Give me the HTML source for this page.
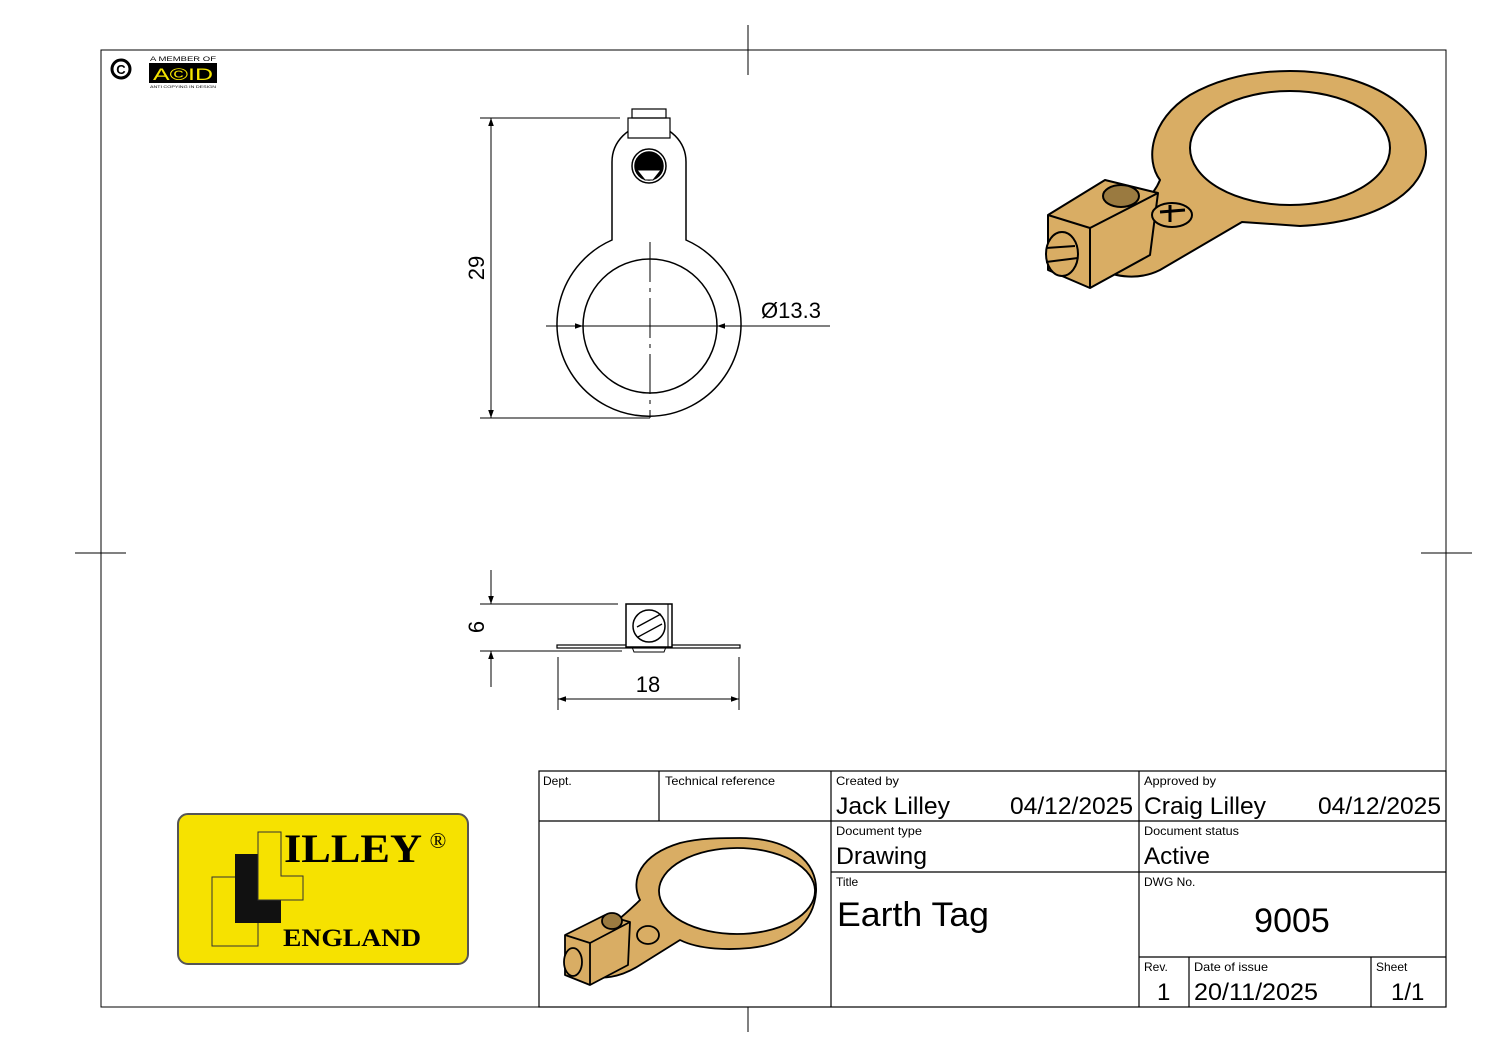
<!DOCTYPE html>
<html><head><meta charset="utf-8"><style>
html,body{margin:0;padding:0;background:#fff;}
svg{display:block;}
text{font-family:"Liberation Sans",sans-serif;fill:#000;}
</style></head><body>
<svg width="1497" height="1058" viewBox="0 0 1497 1058" xmlns="http://www.w3.org/2000/svg">
<defs>
<marker id="a" viewBox="0 0 10 10" refX="10" refY="5" markerWidth="16" markerHeight="8" markerUnits="userSpaceOnUse" orient="auto-start-reverse"><path d="M0,1.5 L10,5 L0,8.5 z" fill="#000"/></marker>
</defs>
<rect width="1497" height="1058" fill="#fff"/>
<rect x="101" y="50" width="1345" height="957" fill="none" stroke="#000" stroke-width="1"/>
<g stroke="#000" stroke-width="1">
<line x1="748" y1="25" x2="748" y2="75"/><line x1="748" y1="983" x2="748" y2="1032"/>
<line x1="75" y1="553" x2="126" y2="553"/><line x1="1421" y1="553" x2="1472" y2="553"/>
</g>
<circle cx="121" cy="69" r="9" fill="none" stroke="#000" stroke-width="3"/>
<text x="121" y="74" font-size="13" font-weight="bold" text-anchor="middle">C</text>
<text x="150" y="61" font-size="6" textLength="66" lengthAdjust="spacingAndGlyphs">A MEMBER OF</text>
<rect x="149" y="63" width="68" height="20" fill="#000"/>
<text x="183" y="80" font-size="17" text-anchor="middle" style="fill:#f4e400" textLength="60" lengthAdjust="spacingAndGlyphs">A©ID</text>
<text x="150" y="88" font-size="4" textLength="66" lengthAdjust="spacingAndGlyphs">ANTI COPYING IN DESIGN</text>

<g fill="none" stroke="#000" stroke-width="1.5">
<path d="M612,240 L612,162 A37,37 0 0 1 686,162 L686,240 A92,92 0 1 1 612,240 Z" fill="#fff"/>
<circle cx="650" cy="326" r="67"/>
<rect x="628" y="118" width="42" height="20" stroke-width="1.2" fill="#fff"/>
<rect x="632" y="109" width="34" height="9" stroke-width="1.2"/>
<circle cx="649" cy="166" r="17"/>
<circle cx="649" cy="166" r="14" fill="#000"/>
<path d="M637,170 L661,170 L653,180 L645,180 Z" fill="#fff" stroke-width="1"/>
</g>
<g stroke="#000" stroke-width="1" fill="none">
<line x1="650" y1="242" x2="650" y2="418" stroke-dasharray="40,6,4,6"/>
<line x1="480" y1="118" x2="620" y2="118"/>
<line x1="480" y1="418" x2="650" y2="418"/>
<line x1="491" y1="118" x2="491" y2="418" marker-start="url(#a)" marker-end="url(#a)"/>
<line x1="546" y1="326" x2="583" y2="326" marker-end="url(#a)"/>
<line x1="583" y1="326" x2="717" y2="326"/>
<line x1="830" y1="326" x2="717" y2="326" marker-end="url(#a)"/>
</g>
<text x="791" y="318" font-size="22" text-anchor="middle">Ø13.3</text>
<text transform="translate(484,268) rotate(-90)" font-size="22" text-anchor="middle">29</text>

<g stroke="#000" fill="none">
<rect x="557" y="645" width="183" height="3" stroke-width="1.2" fill="#fff"/>
<rect x="626" y="604" width="46" height="43" stroke-width="1.5" fill="#fff"/>
<line x1="668" y1="604" x2="668" y2="647" stroke-width="1"/>
<path d="M632,647 L634,652 L664,652 L666,647" stroke-width="1"/>
<circle cx="649" cy="626" r="16" stroke-width="1.5"/>
<line x1="637" y1="627" x2="661" y2="614" stroke-width="1.3"/>
<line x1="638" y1="637" x2="662" y2="624" stroke-width="1.3"/>
<line x1="480" y1="604" x2="618" y2="604" stroke-width="1"/>
<line x1="480" y1="651" x2="622" y2="651" stroke-width="1"/>
<line x1="491" y1="570" x2="491" y2="604" marker-end="url(#a)" stroke-width="1"/>
<line x1="491" y1="687" x2="491" y2="651" marker-end="url(#a)" stroke-width="1"/>
<line x1="558" y1="657" x2="558" y2="710" stroke-width="1"/>
<line x1="739" y1="657" x2="739" y2="710" stroke-width="1"/>
<line x1="558" y1="699" x2="739" y2="699" marker-start="url(#a)" marker-end="url(#a)" stroke-width="1"/>
</g>
<text x="648" y="692" font-size="22" text-anchor="middle">18</text>
<text transform="translate(484,627) rotate(-90)" font-size="22" text-anchor="middle">6</text>

<g stroke="#000" stroke-width="2" stroke-linejoin="round">
<path d="M1290,71 C1370,71 1426,110 1426,152 C1426,190 1380,222 1300,226 L1242,222 L1160,270 C1140,280 1115,278 1100,268 L1095,235 C1120,220 1150,205 1160,180 C1145,160 1150,120 1190,95 C1220,78 1255,71 1290,71 Z" fill="#d9ad64"/>
<ellipse cx="1290" cy="148" rx="100" ry="57" fill="#fff"/>
<path d="M1048,215 L1105,180 L1158,193 L1150,255 L1090,288 L1048,270 Z" fill="#d9ad64"/>
<path d="M1048,215 L1090,228 L1090,288" fill="none"/>
<path d="M1090,228 L1158,193" fill="none"/>
<ellipse cx="1121" cy="196" rx="18" ry="11" fill="#9a7a40"/>
<ellipse cx="1172" cy="215" rx="20" ry="12" fill="#d9ad64"/>
<path d="M1160,212 L1185,210 M1170,205 L1170,222" stroke-width="3"/>
<ellipse cx="1062" cy="254" rx="16" ry="22" fill="#d9ad64"/>
<path d="M1046,248 L1075,246 M1046,262 L1078,258" stroke-width="2"/>
</g>

<rect x="178" y="814" width="290" height="150" rx="10" fill="#f6e200" stroke="#555" stroke-width="2"/>
<rect x="212" y="877" width="46" height="69" fill="#f6e200" stroke="#333"/>
<rect x="235" y="854" width="46" height="69" fill="#111"/>
<path d="M258,832 L281,832 L281,876 L303,876 L303,900 L258,900 Z" fill="#f6e200" stroke="#333"/>
<text x="284" y="862" font-weight="bold" font-size="40" textLength="138" lengthAdjust="spacingAndGlyphs" style="font-family:'Liberation Serif',serif">ILLEY</text>
<text x="438" y="848" font-size="22" text-anchor="middle" style="font-family:'Liberation Serif',serif">®</text>
<text x="283" y="946" font-weight="bold" font-size="25" textLength="138" lengthAdjust="spacingAndGlyphs" style="font-family:'Liberation Serif',serif">ENGLAND</text>

<rect x="539" y="771" width="907" height="236" fill="#fff" stroke="#000" stroke-width="1.2"/>
<g stroke="#000" stroke-width="1.2">
<line x1="539" y1="821" x2="1446" y2="821"/>
<line x1="831" y1="872" x2="1446" y2="872"/>
<line x1="1139" y1="957" x2="1446" y2="957"/>
<line x1="659" y1="771" x2="659" y2="821"/>
<line x1="831" y1="771" x2="831" y2="1007"/>
<line x1="1139" y1="771" x2="1139" y2="1007"/>
<line x1="1189" y1="957" x2="1189" y2="1007"/>
<line x1="1371" y1="957" x2="1371" y2="1007"/>
</g>
<g font-size="12">
<text x="543" y="785">Dept.</text>
<text x="665" y="785" textLength="110" lengthAdjust="spacingAndGlyphs">Technical reference</text>
<text x="836" y="785" textLength="63" lengthAdjust="spacingAndGlyphs">Created by</text>
<text x="1144" y="785" textLength="72" lengthAdjust="spacingAndGlyphs">Approved by</text>
<text x="836" y="835" textLength="86" lengthAdjust="spacingAndGlyphs">Document type</text>
<text x="1144" y="835" textLength="95" lengthAdjust="spacingAndGlyphs">Document status</text>
<text x="836" y="886">Title</text>
<text x="1144" y="886">DWG No.</text>
<text x="1144" y="971">Rev.</text>
<text x="1194" y="971" textLength="74" lengthAdjust="spacingAndGlyphs">Date of issue</text>
<text x="1376" y="971">Sheet</text>
</g>
<g font-size="24">
<text x="836" y="814" textLength="114" lengthAdjust="spacingAndGlyphs">Jack Lilley</text>
<text x="1010" y="814" textLength="123" lengthAdjust="spacingAndGlyphs">04/12/2025</text>
<text x="1144" y="814" textLength="122" lengthAdjust="spacingAndGlyphs">Craig Lilley</text>
<text x="1318" y="814" textLength="123" lengthAdjust="spacingAndGlyphs">04/12/2025</text>
<text x="836" y="864" textLength="91" lengthAdjust="spacingAndGlyphs">Drawing</text>
<text x="1144" y="864" textLength="66" lengthAdjust="spacingAndGlyphs">Active</text>
<text x="1157" y="1000">1</text>
<text x="1194" y="1000" textLength="124" lengthAdjust="spacingAndGlyphs">20/11/2025</text>
<text x="1391" y="1000">1/1</text>
</g>
<text x="837" y="926" font-size="34" textLength="152" lengthAdjust="spacingAndGlyphs">Earth Tag</text>
<text x="1292" y="932" font-size="34" text-anchor="middle">9005</text>

<g stroke="#000" stroke-width="1.8" stroke-linejoin="round">
<path d="M740,838 C790,838 818,862 816,892 C814,922 790,944 750,948 C730,950 700,950 680,940 L640,965 C620,978 600,980 590,975 L580,950 C600,935 625,915 640,900 C630,880 640,855 680,843 C700,838 720,838 740,838 Z" fill="#d9ad64"/>
<ellipse cx="737" cy="891" rx="78" ry="43" fill="#fff"/>
<path d="M565,935 L605,915 L630,922 L628,965 L590,985 L565,975 Z" fill="#d9ad64"/>
<path d="M565,935 L590,943 L590,985 M590,943 L630,922" fill="none"/>
<ellipse cx="612" cy="921" rx="10" ry="8" fill="#9a7a40"/>
<ellipse cx="648" cy="935" rx="11" ry="9" fill="#d9ad64"/>
<ellipse cx="573" cy="962" rx="9" ry="14" fill="#d9ad64"/>
</g>
</svg>
</body></html>
